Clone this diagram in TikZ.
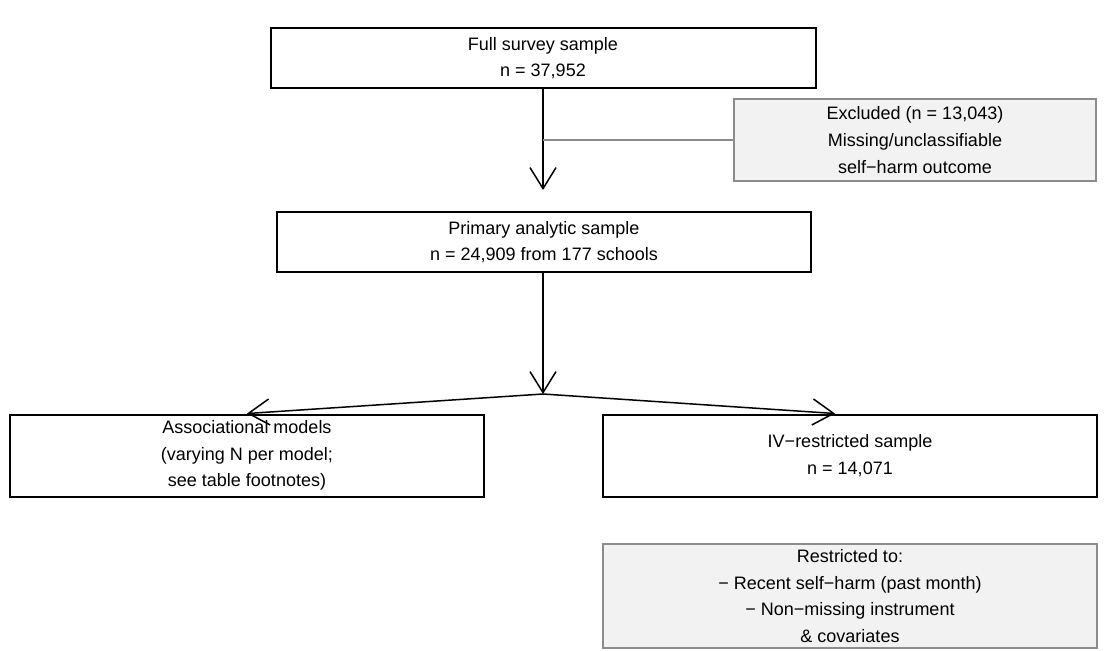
\documentclass[tikz,border=0pt]{standalone}
\usepackage{fontspec}
\setmainfont{Liberation Sans}
\usetikzlibrary{arrows.meta,calc}
\definecolor{boxgrey}{RGB}{242,242,242}
\definecolor{edgegrey}{RGB}{140,140,140}

\begin{document}
\begin{tikzpicture}[x=0.5pt,y=-0.5pt]

\tikzstyle{box} = [draw=black, line width=1pt, rectangle, inner sep=0,
    align=center, font=\fontsize{9}{13.3}\selectfont]
\tikzstyle{greybox} = [box, draw=edgegrey, fill=boxgrey]
\tikzstyle{arr} = [draw=black, line width=0.75pt,
    -{Straight Barb[length=10.5pt,width=13pt]}]

\useasboundingbox (0,0) rectangle (1107,650);

% =========================
% main column
% =========================
\node[box, minimum width=272.5pt, minimum height=30pt] (full) at (543,58)
    {Full survey sample\\n = 37,952};
\node[greybox, minimum width=181pt, minimum height=41pt] (excl) at (915,140)
    {Excluded (n = 13,043)\\Missing/unclassifiable\\self−harm outcome};
\node[box, minimum width=267pt, minimum height=30pt] (prim) at (544,242)
    {Primary analytic sample\\n = 24,909 from 177 schools};

% =========================
% two branches
% =========================
\node[box, minimum width=237pt, minimum height=41pt] (assoc) at (247,455.5)
    {Associational models\\(varying N per model;\\see table footnotes)};
\node[box, minimum width=247pt, minimum height=41pt] (iv) at (850,455.5)
    {IV−restricted sample\\n = 14,071};
\node[greybox, minimum width=247pt, minimum height=52pt] (restr) at (850,596)
    {Restricted to:\\− Recent self−harm (past month)\\− Non−missing instrument\\\& covariates};

% =========================
% connectors
% =========================
\draw[arr, shorten >=10.5pt] (full.south) -- (full.south |- prim.north);
\draw[line width=0.6pt, edgegrey] (excl.west) -- (excl.west -| full.south);

\coordinate (split) at (543,394);
\draw[arr] (split |- prim.south) -- (split);
\draw[arr] (split) -- (assoc.north);
\draw[arr] (split) -- ([xshift=-7.5pt]iv.north);

\end{tikzpicture}
\end{document}
